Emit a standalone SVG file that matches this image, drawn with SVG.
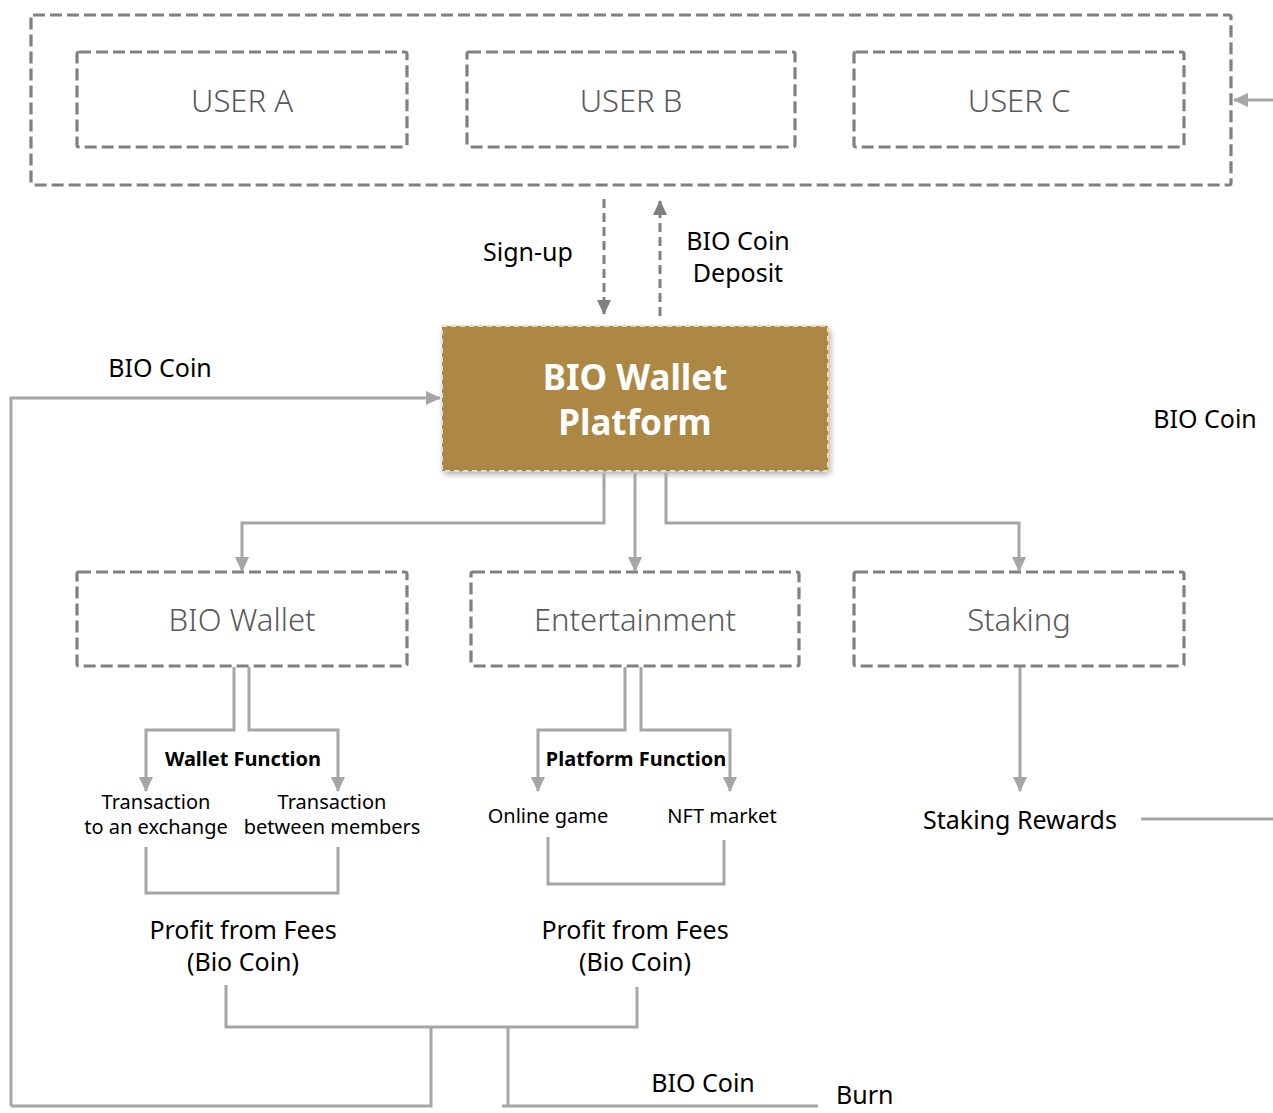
<svg xmlns="http://www.w3.org/2000/svg" width="1273" height="1113" viewBox="0 0 1273 1113">
<style>
.dbox{fill:#fff;stroke:#808080;stroke-width:3.2;stroke-dasharray:12 5;}
.outer{fill:none;stroke:#808080;stroke-width:3.2;stroke-dasharray:12 5;}
.lt{font-family:"Noto Sans","Open Sans",sans-serif;font-size:31px;fill:#595959;text-anchor:middle;font-weight:300;}
.t{font-family:"Noto Sans","Open Sans",sans-serif;fill:#000;text-anchor:middle;}
.t26{font-size:25px;}
.t20{font-size:20px;}
.b20{font-size:20px;font-weight:bold;}
.c{fill:none;stroke:#A6A6A6;stroke-width:3;}
.cd{fill:none;stroke:#808080;stroke-width:3;stroke-dasharray:9 5;}
</style>
<defs>
<marker id="ah" markerUnits="userSpaceOnUse" markerWidth="16" markerHeight="16" viewBox="0 0 16 16" refX="14" refY="8" orient="auto">
<path d="M0,1 L15,8 L0,15 Z" fill="#A6A6A6"/>
</marker>
<marker id="ahd" markerUnits="userSpaceOnUse" markerWidth="16" markerHeight="16" viewBox="0 0 16 16" refX="14" refY="8" orient="auto">
<path d="M0,1 L15,8 L0,15 Z" fill="#808080"/>
</marker>
<filter id="sh" x="-10%" y="-10%" width="125%" height="130%">
<feDropShadow dx="2" dy="3" stdDeviation="3" flood-color="#000" flood-opacity="0.35"/>
</filter>
</defs>
<rect width="1273" height="1113" fill="#fff"/>

<g id="users-group">
<rect class="outer" x="31" y="15" width="1200" height="170" rx="2"/>
</g>
<g id="user-a"><rect class="dbox" x="77" y="52" width="330" height="95" rx="2"/><text class="lt" x="242" y="112">USER A</text></g>
<g id="user-b"><rect class="dbox" x="467" y="52" width="328" height="95" rx="2"/><text class="lt" x="631" y="112">USER B</text></g>
<g id="user-c"><rect class="dbox" x="854" y="52" width="330" height="95" rx="2"/><text class="lt" x="1019" y="112">USER C</text></g>

<g id="platform">
<rect x="442" y="326" width="386" height="145" fill="#AD8844" filter="url(#sh)"/>
<rect x="442" y="326" width="386" height="145" fill="none" stroke="#e8dcc4" stroke-width="2" stroke-dasharray="5 4"/>
<text x="635" y="390" font-family="'Noto Sans','Open Sans',sans-serif" font-size="35" font-weight="bold" fill="#fff" text-anchor="middle">BIO Wallet</text>
<text x="635" y="435" font-family="'Noto Sans','Open Sans',sans-serif" font-size="35" font-weight="bold" fill="#fff" text-anchor="middle">Platform</text>
</g>

<g id="bio-wallet"><rect class="dbox" x="77" y="572" width="330" height="94" rx="2"/><text class="lt" x="242" y="631">BIO Wallet</text></g>
<g id="entertainment"><rect class="dbox" x="471" y="572" width="328" height="94" rx="2"/><text class="lt" x="635" y="631">Entertainment</text></g>
<g id="staking"><rect class="dbox" x="854" y="572" width="330" height="94" rx="2"/><text class="lt" x="1019" y="631">Staking</text></g>

<g id="labels">
<text class="t t26" x="528" y="261">Sign-up</text>
<text class="t t26" x="738" y="250">BIO Coin</text>
<text class="t t26" x="738" y="282">Deposit</text>
<text class="t t26" x="160" y="377">BIO Coin</text>
<text class="t t26" x="1205" y="428">BIO Coin</text>
<text class="t b20" x="243" y="766">Wallet Function</text>
<text class="t t20" x="156" y="809">Transaction</text>
<text class="t t20" x="156" y="834">to an exchange</text>
<text class="t t20" x="332" y="809">Transaction</text>
<text class="t t20" x="332" y="834">between members</text>
<text class="t b20" x="636" y="766">Platform Function</text>
<text class="t t20" x="548" y="823">Online game</text>
<text class="t t20" x="722" y="823">NFT market</text>
<text class="t t26" x="1020" y="829">Staking Rewards</text>
<text class="t t26" x="243" y="939">Profit from Fees</text>
<text class="t t26" x="243" y="971">(Bio Coin)</text>
<text class="t t26" x="635" y="939">Profit from Fees</text>
<text class="t t26" x="635" y="971">(Bio Coin)</text>
<text class="t t26" x="703" y="1092">BIO Coin</text>
<text class="t t26" x="836" y="1104" style="text-anchor:start">Burn</text>
</g>

<g id="connectors">
<path class="cd" d="M604,199 V314" marker-end="url(#ahd)"/>
<path class="cd" d="M660,316 V201" marker-end="url(#ahd)"/>
<path class="c" d="M1273,100 H1234" marker-end="url(#ah)"/>
<path class="c" d="M11,1106 V398 H440" marker-end="url(#ah)"/>
<path class="c" d="M604,473 V523 H242 V571" marker-end="url(#ah)"/>
<path class="c" d="M635,473 V571" marker-end="url(#ah)"/>
<path class="c" d="M666,473 V523 H1019 V571" marker-end="url(#ah)"/>
<path class="c" d="M234,667 V730 H146 V791" marker-end="url(#ah)"/>
<path class="c" d="M249,667 V730 H338 V791" marker-end="url(#ah)"/>
<path class="c" d="M625,667 V730 H538 V791" marker-end="url(#ah)"/>
<path class="c" d="M641,667 V730 H730 V791" marker-end="url(#ah)"/>
<path class="c" d="M1020,667 V791" marker-end="url(#ah)"/>
<path class="c" d="M146,847 V893 H338 V847"/>
<path class="c" d="M548,837 V884 H724 V840"/>
<path class="c" d="M1141,819 H1273"/>
<path class="c" d="M226,985 V1027 H637 V987"/>
<path class="c" d="M431,1027 V1106 H11"/>
<path class="c" d="M508,1027 V1106"/>
<path class="c" d="M502,1106 H818"/>
</g>
</svg>
